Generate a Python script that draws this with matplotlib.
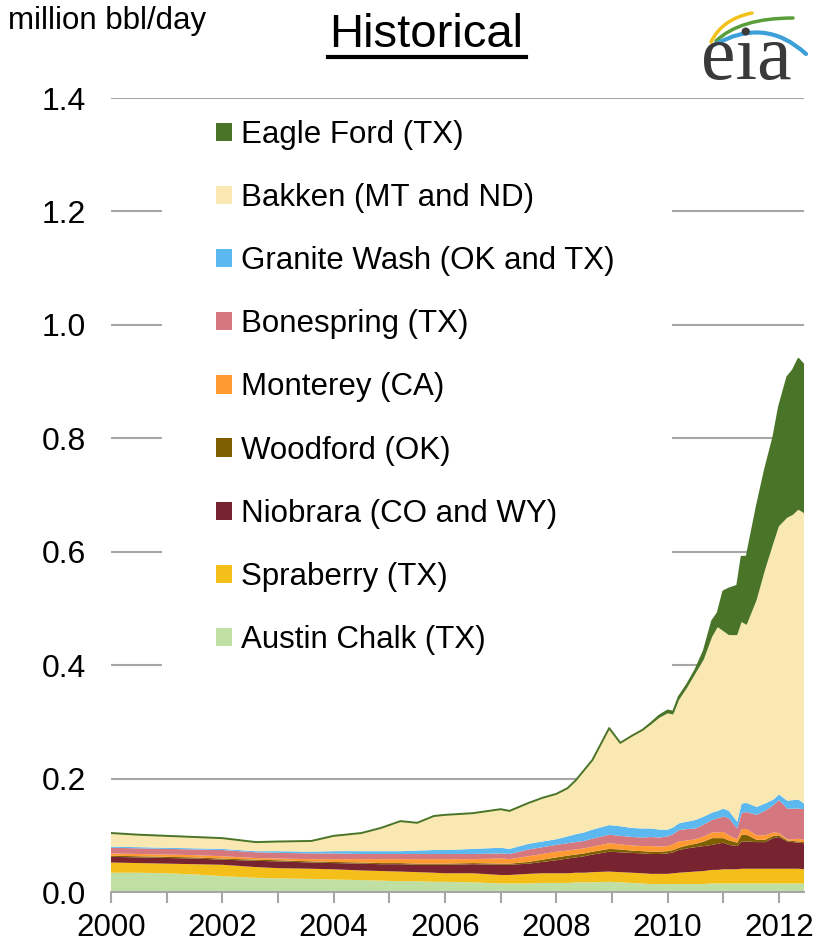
import numpy as np
import matplotlib
matplotlib.use("Agg")
import matplotlib.pyplot as plt
from matplotlib.patches import Rectangle, PathPatch
from matplotlib.path import Path
from matplotlib.lines import Line2D

plt.rcParams['font.family'] = ['Liberation Sans', 'DejaVu Sans']

# time axis (fractional years) and production by play, million bbl/day
years = [2000.0, 2000.5, 2001.0, 2001.5, 2002.0, 2002.6, 2003.0, 2003.6, 2004.0, 2004.5,
         2004.85, 2005.2, 2005.5, 2005.8, 2006.0, 2006.5, 2007.0, 2007.16, 2007.5, 2007.75,
         2008.0, 2008.2, 2008.35, 2008.5, 2008.65, 2008.95, 2009.15, 2009.35, 2009.55, 2009.7,
         2009.85, 2010.0, 2010.1, 2010.2, 2010.35, 2010.5, 2010.65, 2010.8, 2010.9, 2011.0,
         2011.1, 2011.25, 2011.33, 2011.42, 2011.6, 2011.75, 2011.9, 2012.0, 2012.15, 2012.25,
         2012.35, 2012.45]

austin_chalk = [.034, .034, .033, .031, .028, .025, .024, .023, .022, .021,
                .020, .019, .019, .018, .018, .017, .015, .015, .015, .016,
                .016, .016, .017, .017, .017, .018, .017, .016, .015, .014,
                .014, .014, .014, .014, .014, .014, .014, .015, .015, .015,
                .015, .015, .015, .015, .015, .015, .015, .015, .015, .015,
                .015, .015]
spraberry = [.018, .017, .017, .018, .020, .019, .018, .018, .018, .017,
             .017, .017, .016, .016, .015, .016, .015, .015, .017, .017,
             .017, .017, .017, .017, .018, .018, .018, .018, .018, .018,
             .018, .018, .019, .020, .021, .022, .023, .024, .024, .025,
             .025, .025, .026, .026, .026, .026, .026, .026, .026, .026,
             .026, .025]
niobrara = [.010, .010, .010, .010, .009, .011, .012, .011, .011, .012,
            .012, .013, .013, .014, .015, .016, .018, .018, .018, .020,
            .023, .026, .027, .029, .031, .035, .035, .035, .035, .035,
            .035, .036, .037, .040, .042, .043, .044, .044, .046, .047,
            .043, .041, .048, .048, .047, .047, .054, .056, .048, .047,
            .046, .046]
woodford = [.002, .002, .002, .002, .002, .002, .002, .002, .002, .002,
            .002, .002, .002, .002, .002, .002, .002, .002, .003, .004,
            .005, .005, .005, .005, .005, .005, .005, .004, .004, .004,
            .004, .004, .004, .004, .005, .006, .008, .012, .010, .008,
            .008, .006, .012, .012, .004, .004, .004, .003, .002, .002,
            .002, .002]
monterey = [.004, .004, .004, .004, .004, .003, .003, .004, .005, .006,
            .007, .007, .008, .008, .008, .007, .009, .008, .010, .010,
            .010, .009, .009, .009, .009, .010, .009, .009, .009, .010,
            .009, .009, .010, .011, .009, .008, .009, .010, .010, .011,
            .009, .006, .010, .010, .008, .008, .006, .004, .002, .003,
            .005, .004]
bonespring = [.010, .010, .010, .010, .011, .010, .010, .010, .010, .009,
              .009, .009, .009, .009, .009, .009, .009, .009, .012, .012,
              .012, .013, .013, .013, .014, .015, .015, .015, .015, .016,
              .016, .017, .018, .020, .020, .019, .021, .022, .025, .027,
              .030, .019, .028, .030, .036, .043, .048, .058, .054, .054,
              .053, .054]
granite_wash = [.002, .002, .002, .002, .002, .002, .003, .003, .004, .005,
                .005, .005, .006, .007, .007, .009, .010, .009, .010, .010,
                .010, .012, .014, .015, .016, .017, .017, .016, .016, .015,
                .014, .012, .012, .012, .013, .015, .014, .013, .013, .014,
                .013, .012, .017, .016, .014, .013, .010, .010, .014, .015,
                .016, .010]
bakken = [.024, .022, .021, .020, .019, .016, .017, .019, .027, .032,
          .041, .053, .049, .060, .062, .063, .068, .067, .072, .077,
          .080, .085, .095, .110, .123, .171, .147, .162, .173, .183,
          .197, .205, .199, .217, .236, .258, .277, .310, .324, .313,
          .310, .329, .320, .314, .365, .412, .452, .473, .499, .503,
          .511, .512]
eagle_ford = [0, 0, 0, 0, 0, 0, 0, 0, 0, 0,
              0, 0, 0, 0, 0, 0, 0, 0, 0, 0,
              0, 0, 0, 0, 0, 0, 0, 0, .001, .003,
              .004, .005, .005, .006, .006, .007, .015, .028, .025, .070,
              .082, .087, .115, .120, .164, .177, .187, .210, .248, .255,
              .266, .261]

series = [austin_chalk, spraberry, niobrara, woodford, monterey,
          bonespring, granite_wash, bakken, eagle_ford]
labels = ['Austin Chalk (TX)', 'Spraberry (TX)', 'Niobrara (CO and WY)', 'Woodford (OK)',
          'Monterey (CA)', 'Bonespring (TX)', 'Granite Wash (OK and TX)',
          'Bakken (MT and ND)', 'Eagle Ford (TX)']
colors = ['#c0e0a3', '#f5bf1a', '#782430', '#7f6000', '#ff9a33',
          '#d5777f', '#5cb9f0', '#fae8b2', '#4a7529']

y_ticks = [0.0, 0.2, 0.4, 0.6, 0.8, 1.0, 1.2, 1.4]
x_major = [2000, 2002, 2004, 2006, 2008, 2010, 2012]
x_minor = [2001, 2003, 2005, 2007, 2009, 2011]

fig = plt.figure(figsize=(8.26, 9.48), dpi=100)
ax = fig.add_axes([111 / 826, 56 / 948, 693 / 826, 794 / 948])

polys = ax.stackplot(years, *series, colors=colors, labels=labels, linewidth=0, zorder=2)
total = np.sum(np.array(series), axis=0)
ax.plot(years, total, color='#4a7529', lw=1.4, zorder=3)

ax.set_xlim(2000, 2012.45)
ax.set_ylim(0, 1.4)
ax.set_yticks(y_ticks)
ax.set_yticklabels([f'{v:.1f}' for v in y_ticks])
ax.set_xticks(x_major)
ax.set_xticklabels([str(v) for v in x_major])
ax.set_xticks(x_minor, minor=True)

ax.set_axisbelow(True)
ax.yaxis.grid(True, color='#a6a6a6', lw=1.5)
ax.xaxis.grid(False)
for s in ['left', 'right', 'top']:
    ax.spines[s].set_visible(False)
ax.spines['bottom'].set_color('#a6a6a6')
ax.spines['bottom'].set_linewidth(1.5)
ax.spines['bottom'].set_zorder(4)
ax.tick_params(axis='y', length=0, pad=18, labelsize=23)
ax.tick_params(axis='x', which='both', length=8, width=1.5, color='#a6a6a6',
               pad=7, labelsize=22.5)

# white box behind the legend hides the gridlines
ax.add_patch(Rectangle((51 / 693, 0.39 / 1.4), 510 / 693, 0.93 / 1.4,
                       transform=ax.transAxes, facecolor='white', edgecolor='none', zorder=1))

leg = ax.legend(polys[::-1], labels[::-1], loc='upper left',
                bbox_to_anchor=(216 / 826, 1 - 120 / 948), bbox_transform=fig.transFigure,
                frameon=False, fontsize=22.5, handlelength=0.52, handleheight=0.52,
                handletextpad=0.27, labelspacing=1.06, borderpad=0, borderaxespad=0)

fig.text(8 / 826, 1 - 21 / 948, 'million bbl/day', fontsize=22.5, va='center', ha='left')
fig.text(426 / 826, 1 - 35 / 948, 'Historical', fontsize=34, va='center', ha='center')
fig.add_artist(Line2D([328 / 826, 526 / 826], [1 - 57 / 948, 1 - 57 / 948],
                      color='black', lw=3, transform=fig.transFigure))

# eia logo
fig.text(746 / 826, 1 - 60 / 948, 'eia', family='Liberation Serif', fontsize=56,
         color='#3a3a3a', ha='center', va='center')
def swoosh(p0, p1, p2, color, lw):
    path = Path([p0, p1, p2], [Path.MOVETO, Path.CURVE3, Path.CURVE3])
    fig.add_artist(PathPatch(path, transform=fig.transFigure, facecolor='none',
                             edgecolor=color, lw=lw, capstyle='round'))
def fp(x, y):
    return (x / 826, 1 - y / 948)
swoosh(fp(711, 42), fp(722, 19), fp(752, 13), '#f2c21b', 2.5)
swoosh(fp(716, 41), fp(740, 18), fp(793, 18), '#5a9e3a', 2.5)
swoosh(fp(714, 45), fp(765, 16), fp(806, 54), '#3c9fd8', 3)

fig.savefig('out.png', dpi=100)
